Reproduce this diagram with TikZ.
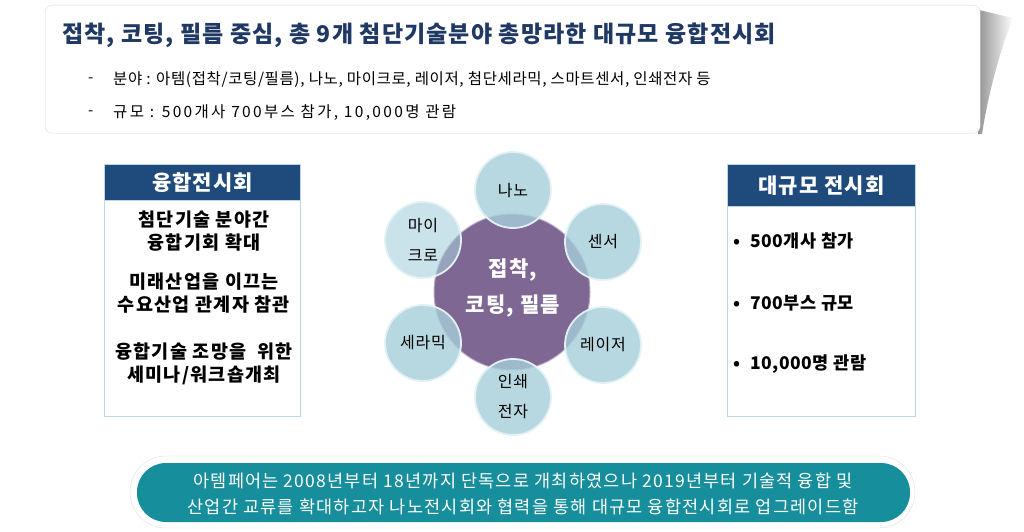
\documentclass[tikz,border=0pt]{standalone}
\usepackage{fontspec}
\setmainfont{Noto Sans CJK KR}
\newfontfamily\kr{Noto Sans CJK KR}
\newcommand\ls[1]{\addfontfeature{LetterSpace=#1}}
\usetikzlibrary{shadings}
\definecolor{navy}{HTML}{1F3864}
\definecolor{hdr}{HTML}{1F4A7C}
\definecolor{bdr}{HTML}{BBD6E6}
\definecolor{teal}{HTML}{168E9C}
\definecolor{purp}{HTML}{7E6793}
\definecolor{bub}{HTML}{A6CEDA}
\definecolor{bubrim}{HTML}{E2F1F5}
\tikzset{
  hbox/.style={fill=hdr,draw=bdr,line width=0.8pt},
  bbox/.style={fill=white,draw=bdr,line width=1pt},
  bubble/.style={circle,minimum size=76pt,inner sep=0pt,fill=bub,fill opacity=0.8,draw=bubrim,line width=1.8pt,text opacity=1},
  btxt/.style={font=\kr\fontsize{16}{30}\selectfont\ls{5},align=center,text=black},
  ltxt/.style={font=\kr\bfseries\fontsize{18.5}{23}\selectfont\ls{7},align=center,text=black},
  rtxt/.style={font=\kr\bfseries\fontsize{17.5}{20}\selectfont\ls{3},anchor=west,text=black,inner sep=0pt},
  htxt/.style={text=white,font=\kr\bfseries\fontsize{21}{22}\selectfont\ls{5}},
}
\begin{document}
\begin{tikzpicture}[x=1pt,y=-1pt]
\useasboundingbox (0,0) rectangle (1024,532);
% top box shadow
\shade[left color=gray!85,right color=white] (979,10) -- (1013,18) .. controls (1000,50) and (988,95) .. (982,134) -- (978,134) -- cycle;
\node[draw=gray!30,fill=white,rounded corners=7pt,minimum width=935pt,minimum height=128pt,anchor=north west,inner sep=0pt] (topbox) at (45,5) {};
\node[anchor=west,text=navy,font=\kr\bfseries\fontsize{23}{24}\selectfont\ls{5},inner sep=0pt] (title) at (62,35) {접착, 코팅, 필름 중심, 총 9개 첨단기술분야 총망라한 대규모 융합전시회};
\node[anchor=west,font=\kr\fontsize{15}{18}\selectfont,inner sep=0pt] (d1) at (88,80) {-};
\node[anchor=west,font=\kr\fontsize{15.5}{18}\selectfont\ls{4},inner sep=0pt] (l1) at (113,80) {분야 : 아템(접착/코팅/필름), 나노, 마이크로, 레이저, 첨단세라믹, 스마트센서, 인쇄전자 등};
\node[anchor=west,font=\kr\fontsize{15}{18}\selectfont,inner sep=0pt] (d2) at (88,113) {-};
\node[anchor=west,font=\kr\fontsize{15.5}{18}\selectfont\ls{15},inner sep=0pt] (l2) at (113,113) {규모 : 500개사 700부스 참가, 10,000명 관람};

% left box
\node[bbox,minimum width=196pt,minimum height=216pt,anchor=north west,inner sep=0pt] (lbody) at (104,200) {};
\node[hbox,htxt,minimum width=196pt,minimum height=36pt,anchor=north west,inner sep=0pt] (lhead) at (104,164) {융합전시회};
\node[ltxt] (lt1) at (204,231) {첨단기술 분야간\\융합기회 확대};
\node[ltxt] (lt2) at (204,293) {미래산업을 이끄는\\수요산업 관계자 참관};
\node[ltxt] (lt3) at (204,364) {융합기술 조망을~ 위한\\세미나/워크숍개최};

% right box
\node[bbox,minimum width=188pt,minimum height=210pt,anchor=north west,inner sep=0pt] (rbody) at (727,206) {};
\node[hbox,htxt,minimum width=188pt,minimum height=42pt,anchor=north west,inner sep=0pt] (rhead) at (727,164) {대규모 전시회};
\node[rtxt] (r1) at (733,241) {\textbullet\hspace{10pt}500개사 참가};
\node[rtxt] (r2) at (733,303) {\textbullet\hspace{10pt}700부스 규모};
\node[rtxt] (r3) at (733,364) {\textbullet\hspace{10pt}10,000명 관람};

% center
\node[circle,minimum size=156pt,inner sep=0pt,fill=purp,draw=purp!55!white,line width=1pt] (core) at (512,292) {};
\node[bubble] (b1) at (513,190) {};
\node[bubble] (b2) at (603,242) {};
\node[bubble] (b3) at (603,345) {};
\node[bubble] (b4) at (513,397) {};
\node[bubble] (b5) at (423,343) {};
\node[bubble,fill opacity=0.6] (b6) at (423,240) {};
\node[font=\kr\bfseries\fontsize{21}{36}\selectfont\ls{6},text=white,align=center] (ct) at (513,288) {접착,\\코팅, 필름};
\node[btxt] (t1) at (b1) {나노};
\node[btxt] (t2) at (b2) {센서};
\node[btxt] (t3) at (b3) {레이저};
\node[btxt] (t4) at (b4) {인쇄\\전자};
\node[btxt] (t5) at (b5) {세라믹};
\node[btxt] (t6) at (b6) {마이\\크로};

% bottom banner
\node[draw=gray!25,fill=white,rounded corners=36pt,minimum width=785pt,minimum height=72pt,inner sep=0pt] (bout) at (522.5,492) {};
\node[fill=teal,rounded corners=29pt,minimum width=773pt,minimum height=59pt,inner sep=0pt] (bin) at (523.5,492.5) {};
\node[text=white,font=\kr\fontsize{17.5}{26}\selectfont\ls{7},align=center] (bt) at (523,494) {아템페어는 2008년부터 18년까지 단독으로 개최하였으나 2019년부터 기술적 융합 및\\산업간 교류를 확대하고자 나노전시회와 협력을 통해 대규모 융합전시회로 업그레이드함};
\end{tikzpicture}
\end{document}
